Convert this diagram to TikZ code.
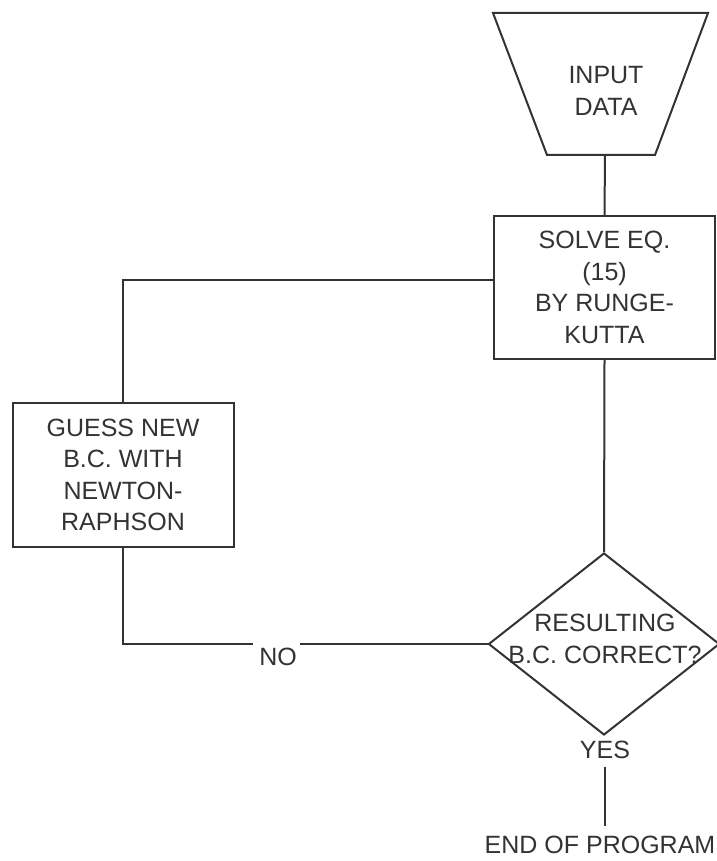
\documentclass[tikz,border=0pt]{standalone}
\usepackage{fontspec}
\setmainfont{Liberation Sans}
\usetikzlibrary{shapes.geometric}
\definecolor{ink}{HTML}{333333}
\begin{document}
\begin{tikzpicture}[x=1pt,y=-1pt,
  lbl/.style={text=ink, align=center, inner sep=0pt, font=\fontsize{25}{31.5}\selectfont},
  box/.style={lbl, draw=ink, line width=2pt, rectangle},
  conn/.style={draw=ink, line width=2pt}]
\useasboundingbox (0,0) rectangle (716,861);
% input trapezoid
\draw[conn, line join=miter] (493,13) -- (708,13) -- (655,155) -- (547,155) -- cycle;
\node[lbl] (input) at (606,91) {INPUT\\DATA};
\coordinate (inbot) at (605,155);
% boxes
\node[box, minimum width=221pt, minimum height=143pt] (solve) at (604.5,287.5) {SOLVE EQ.\\(15)\\BY RUNGE-\\KUTTA};
\node[box, minimum width=221pt, minimum height=144pt] (guess) at (123,475) {GUESS NEW\\B.C. WITH\\NEWTON-\\RAPHSON};
% decision
\node[diamond, draw=ink, line width=2pt, minimum width=231pt, minimum height=182pt, inner sep=0pt] (dec) at (604,644) {};
\node[lbl] (dectext) at (605,639) {RESULTING\\B.C. CORRECT?};
% labels
\node[lbl] (no) at (278,657) {NO};
\coordinate (noL) at (253,644);
\coordinate (noR) at (300,644);
\node[lbl] (yes) at (605,750) {YES};
\node[lbl] (end) at (600,845) {END OF PROGRAM};
% connectors
\draw[conn] (inbot) -- (solve.north);
\draw[conn] ([yshift=7.5pt]solve.west) -| (guess.north);
\draw[conn] (solve.south) -- (dec.north);
\draw[conn] (guess.south) |- (noL);
\draw[conn] (noR) -- (dec.west);
\draw[conn, shorten <=8pt, shorten >=10pt] (yes.south) -- (yes.south |- end.north);
\end{tikzpicture}
\end{document}
